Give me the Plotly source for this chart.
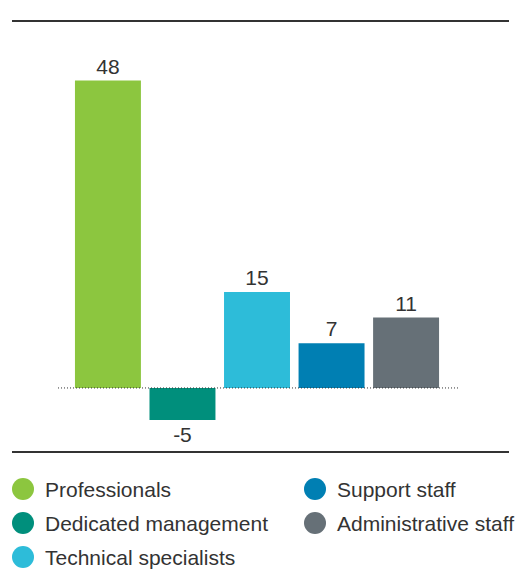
import plotly.graph_objects as go

categories = ["Professionals", "Dedicated management", "Technical specialists", "Support staff", "Administrative staff"]
values = [48, -5, 15, 7, 11]
colors = ["#8cc63f", "#008f7c", "#2dbcd9", "#007fb3", "#667077"]
value_labels = [str(v) for v in values]

# legend layout: column-major, 3 rows in col 1, 2 rows in col 2
legend_cols = [0, 0, 0, 1, 1]
legend_rows = [0, 1, 2, 0, 1]

W, H = 531, 570
ml, mr, mt, mb = 58, 72, 21, 118
pw = W - ml - mr
ph = H - mt - mb

def px_x(x):
    return (x - ml) / pw

def px_y(y):
    return 1 - (y - mt) / ph

fig = go.Figure()
fig.add_trace(go.Bar(
    x=list(range(len(categories))),
    y=values,
    marker=dict(color=colors, line=dict(width=0)),
    width=0.885,
    text=value_labels,
    textposition="outside",
    textfont=dict(size=21, color="#333333", family="Liberation Sans, Arial, sans-serif"),
    cliponaxis=False,
    hoverinfo="skip",
))

shapes = [
    # top and bottom rules
    dict(type="line", xref="paper", yref="paper", x0=px_x(12), x1=px_x(509), y0=1, y1=1,
         line=dict(color="#333333", width=2)),
    dict(type="line", xref="paper", yref="paper", x0=px_x(12), x1=px_x(509), y0=0, y1=0,
         line=dict(color="#333333", width=2)),
    # zero line
    dict(type="line", xref="paper", yref="y", x0=0, x1=1, y0=0, y1=0,
         line=dict(color="#333333", width=1, dash="1px,2px"), layer="above"),
]
annotations = []
col_x = [23, 315]
row_y = [489, 523, 557]
r = 11
for name, col, c, rr in zip(categories, colors, legend_cols, legend_rows):
    cx = col_x[c]
    cy = row_y[rr]
    shapes.append(dict(type="circle", xref="paper", yref="paper",
                       x0=px_x(cx - r), x1=px_x(cx + r), y0=px_y(cy + r), y1=px_y(cy - r),
                       fillcolor=col, line=dict(width=0)))
    annotations.append(dict(xref="paper", yref="paper", x=px_x(cx + 20), y=px_y(cy),
                            text=name, showarrow=False, xanchor="left", yanchor="middle",
                            font=dict(size=21, color="#333333", family="Liberation Sans, Arial, sans-serif")))

fig.update_layout(
    width=W, height=H,
    margin=dict(l=ml, r=mr, t=mt, b=mb, pad=0),
    paper_bgcolor="white", plot_bgcolor="white",
    showlegend=False,
    xaxis=dict(range=[-0.67, 4.71], visible=False, fixedrange=True),
    yaxis=dict(range=[-10, 57.3], visible=False, fixedrange=True),
    shapes=shapes,
    annotations=annotations,
    font=dict(family="Liberation Sans, Arial, sans-serif"),
)

fig.write_html("out.html", config={"displayModeBar": False})
